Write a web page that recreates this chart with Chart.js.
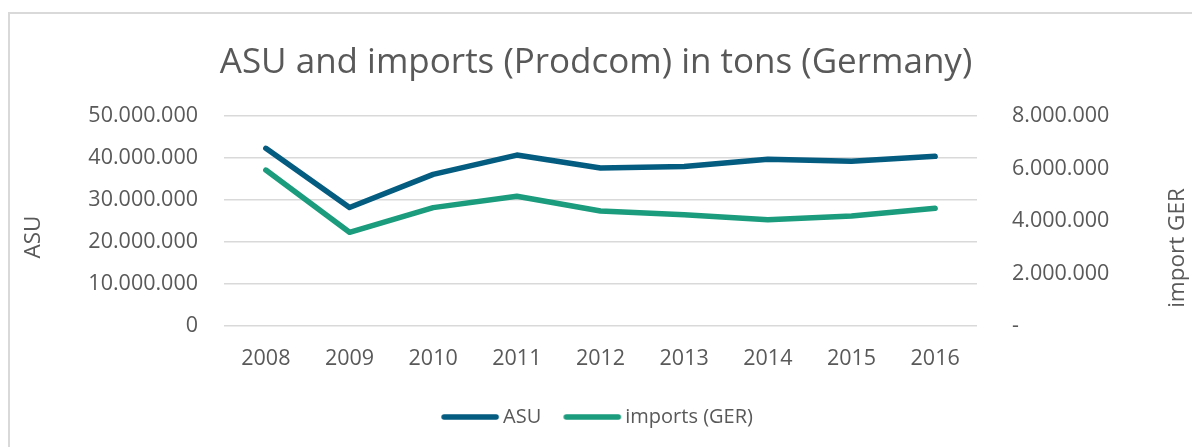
<!DOCTYPE html>
<html>
<head>
<meta charset="utf-8">
<script src="https://cdn.jsdelivr.net/npm/chart.js@4.4.1/dist/chart.umd.min.js"></script>
<style>
    html, body { margin: 0; padding: 0; background: #fff; overflow: hidden; }
    #frame {
        position: absolute; left: 8px; top: 12px;
        width: 1300px; height: 600px;
        border: 2px solid #d9d9d9; box-sizing: border-box;
    }
    #chart { position: absolute; left: 0; top: 0; }
</style>
</head>
<body>
<div id="frame"></div>
<canvas id="chart" width="1192" height="447"></canvas>
<script>
// data
const years = ["2008", "2009", "2010", "2011", "2012", "2013", "2014", "2015", "2016"];
const asuTons = [42300000, 28200000, 36100000, 40700000, 37600000, 38000000, 39700000, 39200000, 40400000];
const importTons = [5940000, 3570000, 4510000, 4940000, 4380000, 4240000, 4050000, 4190000, 4490000];

const FONT = "'Open Sans', 'Noto Sans', sans-serif";
const GREY = "#595959";
const TICK = 21.5;
const LEGEND_FONT = 20;
const LEGEND_BOX = 54;   // layout width of a legend symbol

function dotted(v) {
    return String(Math.round(v)).replace(/\B(?=(\d{3})+(?!\d))/g, ".");
}

// legend symbol: short thick line pushed to the right so it sits close to its text
function legendLine(color) {
    const w = LEGEND_BOX + LEGEND_FONT;
    const c = document.createElement("canvas");
    c.width = w;
    c.height = 8;
    const g = c.getContext("2d");
    g.strokeStyle = color;
    g.lineWidth = 5.5;
    g.lineCap = "round";
    g.beginPath();
    g.moveTo(w - 59, 4);
    g.lineTo(w - 7, 4);
    g.stroke();
    return c;
}

// axis titles: Excel writes both bottom-to-top
const axisTitles = {
    id: "axisTitles",
    afterDraw(chart) {
        const ctx = chart.ctx;
        const area = chart.chartArea;
        const mid = (area.top + area.bottom) / 2;
        ctx.save();
        ctx.fillStyle = GREY;
        ctx.font = "22.5px " + FONT;
        ctx.textAlign = "center";
        ctx.textBaseline = "middle";

        ctx.save();
        ctx.translate(34, mid + 16);
        ctx.rotate(-Math.PI / 2);
        ctx.fillText("ASU", 0, 0);
        ctx.restore();

        ctx.save();
        ctx.translate(1178, mid + 27);
        ctx.rotate(-Math.PI / 2);
        ctx.fillText("import GER", 0, 0);
        ctx.restore();

        ctx.restore();
    }
};

const ctx = document.getElementById("chart").getContext("2d");

new Chart(ctx, {
    type: "line",
    data: {
        labels: years,
        datasets: [{
            label: "ASU",
            data: asuTons,
            yAxisID: "y",
            borderColor: "#045C80",
            backgroundColor: "#045C80",
            borderWidth: 5.5,
            borderCapStyle: "round",
            borderJoinStyle: "round",
            pointRadius: 0,
            tension: 0
        }, {
            label: "imports (GER)",
            data: importTons,
            yAxisID: "y1",
            borderColor: "#1A9C7D",
            backgroundColor: "#1A9C7D",
            borderWidth: 5.5,
            borderCapStyle: "round",
            borderJoinStyle: "round",
            pointRadius: 0,
            tension: 0
        }]
    },
    options: {
        responsive: false,
        animation: false,
        devicePixelRatio: 1,
        layout: { padding: { left: 0, right: 0, top: 0, bottom: 10 } },
        plugins: {
            title: {
                display: true,
                text: "ASU and imports (Prodcom) in tons (Germany)",
                color: GREY,
                font: { family: FONT, size: 35, weight: "normal" },
                padding: { top: 42, bottom: 32 }
            },
            legend: {
                position: "bottom",
                labels: {
                    usePointStyle: true,
                    pointStyleWidth: LEGEND_BOX,
                    color: GREY,
                    font: { family: FONT, size: LEGEND_FONT },
                    padding: 20,
                    generateLabels(chart) {
                        const items = Chart.defaults.plugins.legend.labels.generateLabels(chart);
                        items.forEach(it => {
                            it.pointStyle = legendLine(chart.data.datasets[it.datasetIndex].borderColor);
                        });
                        return items;
                    }
                }
            },
            tooltip: { enabled: false }
        },
        scales: {
            x: {
                offset: true,
                grid: { display: false, drawTicks: false },
                border: { display: false },
                ticks: { color: GREY, font: { family: FONT, size: TICK }, padding: 20, maxRotation: 0 },
                afterFit(s) { s.height = 61; }
            },
            y: {
                position: "left",
                min: 0,
                max: 50000000,
                ticks: {
                    stepSize: 10000000,
                    color: GREY,
                    font: { family: FONT, size: TICK },
                    padding: 26,
                    callback: v => dotted(v)
                },
                grid: { color: "#d9d9d9", lineWidth: 1.5, drawTicks: false },
                border: { display: false },
                afterFit(s) { s.width = 224; }
            },
            y1: {
                position: "right",
                min: 0,
                max: 8000000,
                ticks: {
                    stepSize: 2000000,
                    color: GREY,
                    font: { family: FONT, size: TICK },
                    padding: 35,
                    callback: v => (v === 0 ? "-" : dotted(v))
                },
                grid: { display: false, drawTicks: false },
                border: { display: false },
                afterFit(s) { s.width = 215; }
            }
        }
    },
    plugins: [axisTitles]
});
</script>
</body>
</html>
